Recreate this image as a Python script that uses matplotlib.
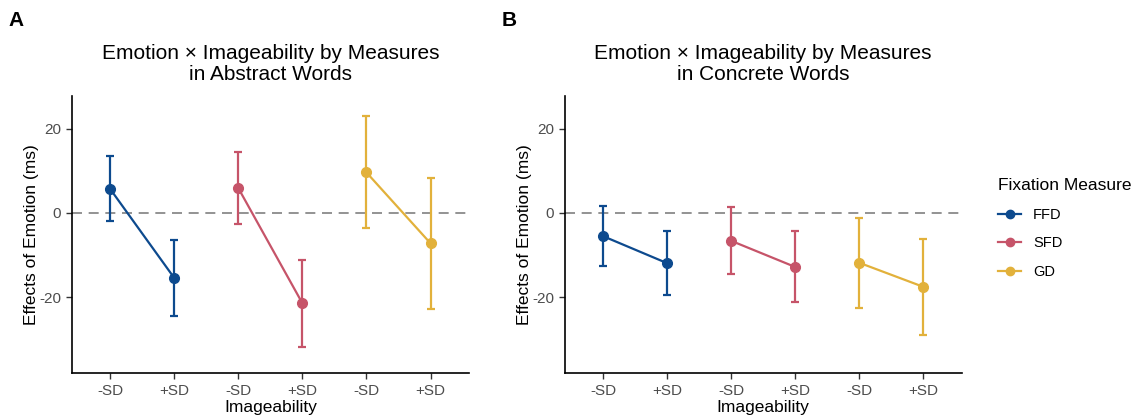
import matplotlib
matplotlib.use("Agg")
import matplotlib.pyplot as plt
from matplotlib.lines import Line2D
import numpy as np

plt.rcParams["font.family"] = ["Liberation Sans", "DejaVu Sans"]
plt.rcParams["axes.unicode_minus"] = False

measures = ["FFD", "SFD", "GD"]
levels = ["-SD", "+SD"]
colors = {"FFD": "#0d4a8e", "SFD": "#c65469", "GD": "#e2b13b"}

# abstract words: estimate, lower, upper for (-SD, +SD)
abs_est = {"FFD": [5.7, -15.4], "SFD": [5.9, -21.4], "GD": [9.6, -7.2]}
abs_lo = {"FFD": [-2.0, -24.4], "SFD": [-2.6, -31.7], "GD": [-3.6, -22.8]}
abs_hi = {"FFD": [13.4, -6.4], "SFD": [14.5, -11.1], "GD": [23.1, 8.4]}

# concrete words
con_est = {"FFD": [-5.5, -11.9], "SFD": [-6.6, -12.8], "GD": [-11.8, -17.5]}
con_lo = {"FFD": [-12.6, -19.5], "SFD": [-14.4, -21.0], "GD": [-22.5, -28.9]}
con_hi = {"FFD": [1.7, -4.3], "SFD": [1.4, -4.3], "GD": [-1.1, -6.1]}

W, H = 1136, 417
fig = plt.figure(figsize=(W / 100, H / 100), dpi=100)


def box(l, t, r, b):
    return [l / W, 1 - b / H, (r - l) / W, (b - t) / H]


axA = fig.add_axes(box(71.7, 95.7, 469, 373.3))
axB = fig.add_axes(box(564.7, 95.7, 961.7, 373.3))

panels = [
    (axA, abs_est, abs_lo, abs_hi, "Emotion × Imageability by Measures\nin Abstract Words"),
    (axB, con_est, con_lo, con_hi, "Emotion × Imageability by Measures\nin Concrete Words"),
]

for ax, est, lo, hi, title in panels:
    ax.axhline(0, ls=(0, (6, 4)), color="#808080", lw=1.2, zorder=1)
    for i, m in enumerate(measures):
        x = np.array([2 * i + 1, 2 * i + 2])
        e = np.array(est[m])
        yerr = [e - np.array(lo[m]), np.array(hi[m]) - e]
        ax.errorbar(x, e, yerr=yerr, fmt="none", ecolor=colors[m], elinewidth=1.6,
                    capsize=3, capthick=1.6, zorder=2)
        ax.plot(x, e, color=colors[m], lw=1.6, zorder=3)
        ax.plot(x, e, "o", color=colors[m], ms=7, zorder=4)
    ax.set_xlim(0.4, 6.6)
    ax.set_ylim(-38.0, 27.8)
    ax.set_xticks(range(1, 7))
    ax.set_xticklabels(levels * 3)
    ax.set_yticks([-20, 0, 20])
    ax.tick_params(axis="both", labelsize=11, length=4, width=1,
                   colors="#333333", labelcolor="#4d4d4d")
    for s in ["top", "right"]:
        ax.spines[s].set_visible(False)
    for s in ["left", "bottom"]:
        ax.spines[s].set_linewidth(1.2)
    ax.set_xlabel("Imageability", fontsize=12.5, labelpad=2)
    ax.set_ylabel("Effects of Emotion (ms)", fontsize=12.5)
    ax.yaxis.set_label_coords(-0.083, 0.5)
    bb = ax.get_position()
    fig.text((bb.x0 + bb.x1) / 2, 1 - 64 / H, title, fontsize=15, ha="center",
             va="center", linespacing=1.15)

fig.text(8 / W, 1 - 20 / H, "A", fontsize=15, fontweight="bold", va="center", ha="left")
fig.text(502 / W, 1 - 20 / H, "B", fontsize=15, fontweight="bold", va="center", ha="left")

handles = [Line2D([0], [0], color=colors[m], lw=1.6, marker="o", ms=6) for m in measures]
leg = fig.legend(handles, measures, title="Fixation Measure", loc="upper left",
                 bbox_to_anchor=(985 / W, 1 - 165 / H), frameon=False, fontsize=10.5,
                 title_fontsize=12.5, handlelength=1.6, labelspacing=1.0, handletextpad=0.8)
leg._legend_box.align = "left"

fig.savefig("out.png", dpi=100)
